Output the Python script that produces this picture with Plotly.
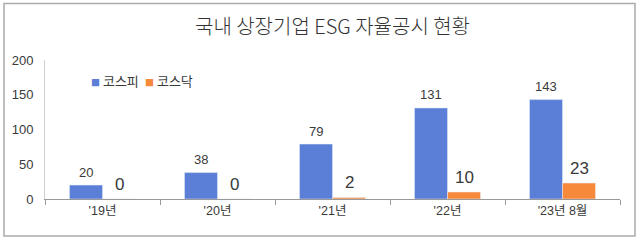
import plotly.graph_objects as go

categories = ["'19년", "'20년", "'21년", "'22년", "'23년 8월"]
kospi = [20, 38, 79, 131, 143]
kosdaq = [0, 0, 2, 10, 23]
series_names = ["코스피", "코스닥"]
y_ticks = [0, 50, 100, 150, 200]

BLUE = "#5B7ED6"
ORANGE = "#F7893B"
FONT = "Arial, Liberation Sans, Noto Sans CJK KR"
TFONT = "Noto Sans CJK KR"
TXT = "#3a3a3a"

fig = go.Figure()
fig.add_trace(go.Bar(x=categories, y=kospi, name=series_names[0], marker_color=BLUE, showlegend=False))
fig.add_trace(go.Bar(x=categories, y=kosdaq, name=series_names[1], marker_color=ORANGE, showlegend=False))

for c, v in zip(categories, kospi):
    fig.add_annotation(x=c, y=v, text=str(v), showarrow=False, xshift=-16.5, yshift=13,
                       yanchor="middle", font=dict(size=13, color=TXT, family=FONT))
for c, v in zip(categories, kosdaq):
    fig.add_annotation(x=c, y=v, text=str(v), showarrow=False, xshift=16.5, yshift=15,
                       yanchor="middle", font=dict(size=17, color=TXT, family=FONT))

# legend (text-based, close spacing as in the reference)
legend_x = [(89 - 45) / 575, (143 - 45) / 575]
for name, col, lx in zip(series_names, [BLUE, ORANGE], legend_x):
    fig.add_annotation(xref="paper", yref="paper", x=lx, y=(199 - 80) / 139, xanchor="left",
                       yanchor="middle", showarrow=False,
                       text=f"<span style='color:{col};font-size:9px'>■</span> {name}",
                       font=dict(size=13, color=TXT, family=TFONT))

# outer frame
fig.add_shape(type="rect", xref="paper", yref="paper",
              x0=(4 - 45) / 575, x1=(635 - 45) / 575,
              y0=(199 - 236) / 139, y1=(199 - 3.5) / 139,
              line=dict(color="#AAAAAA", width=1.5), layer="below")

fig.update_layout(
    width=640, height=242,
    margin=dict(l=45, r=20, t=60, b=43),
    paper_bgcolor="white", plot_bgcolor="white",
    barmode="group", bargap=0.426, bargroupgap=0,
    font=dict(family=FONT, color=TXT, size=12),
    title=dict(text="국내 상장기업 ESG 자율공시 현황", x=0.5, xref="paper", xanchor="center",
               y=1 - 27 / 242, yref="container", yanchor="middle",
               font=dict(size=20, color="#333333", family=TFONT, weight=300)),
    showlegend=False,
    xaxis=dict(showline=True, linecolor="#999999", linewidth=1, ticks="outside", tickson="boundaries",
               ticklen=5, tickcolor="#999999", showgrid=False,
               tickfont=dict(size=12.5, color=TXT, family=FONT), fixedrange=True),
    yaxis=dict(range=[0, 200], tickvals=y_ticks, showline=True, linecolor="#D0D0D0", linewidth=1,
               ticks="outside", ticklen=8, tickcolor="rgba(0,0,0,0)", showgrid=False, zeroline=False,
               tickfont=dict(size=13, color=TXT, family=FONT), fixedrange=True),
)

fig.write_html("out.html")
